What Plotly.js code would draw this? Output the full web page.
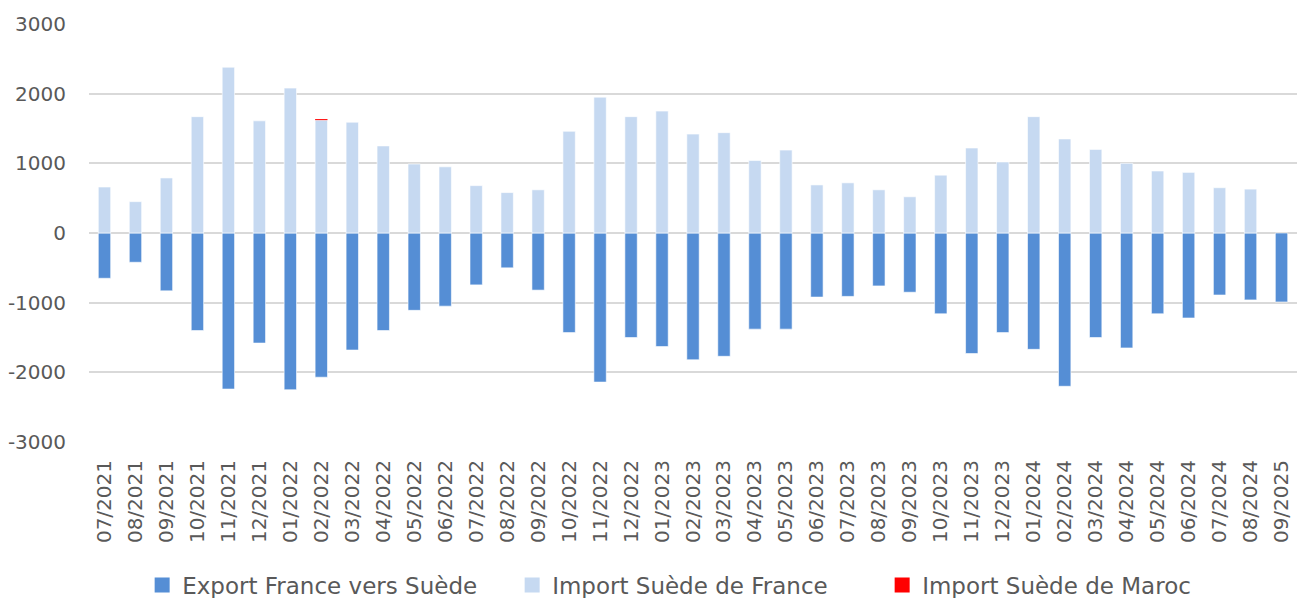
<!DOCTYPE html>
<html><head><meta charset="utf-8">
<script src="https://cdn.plot.ly/plotly-3.0.1.min.js"></script>
<style>body{margin:0;background:#fff}#chart{width:1299px;height:598px}</style>
</head><body><div id="chart"></div>
<script>
const months = ["07/2021","08/2021","09/2021","10/2021","11/2021","12/2021","01/2022","02/2022","03/2022","04/2022","05/2022","06/2022","07/2022","08/2022","09/2022","10/2022","11/2022","12/2022","01/2023","02/2023","03/2023","04/2023","05/2023","06/2023","07/2023","08/2023","09/2023","10/2023","11/2023","12/2023","01/2024","02/2024","03/2024","04/2024","05/2024","06/2024","07/2024","08/2024","09/2025"];
const exportFranceSuede = [-650,-420,-830,-1400,-2240,-1580,-2250,-2070,-1680,-1400,-1110,-1050,-745,-500,-820,-1430,-2140,-1500,-1630,-1820,-1770,-1380,-1380,-920,-910,-760,-850,-1160,-1730,-1430,-1670,-2200,-1500,-1650,-1160,-1220,-890,-960,-990];
const importSuedeFrance = [660,450,790,1670,2380,1610,2080,1620,1590,1250,990,950,680,580,620,1460,1950,1670,1750,1420,1440,1040,1190,690,720,620,520,830,1220,1020,1670,1350,1200,1000,890,870,650,630,null];
const importSuedeMaroc = [null,null,null,null,null,null,null,15,null,null,null,null,null,null,null,null,null,null,null,null,null,null,null,null,null,null,null,null,null,null,null,null,null,null,null,null,null,null,null];
const seriesNames = ['Export France vers Suède','Import Suède de France','Import Suède de Maroc'];
const seriesColors = ['#558ED5','#C6D9F1','#FF0000'];

const font = "'DejaVu Sans', sans-serif";
const traces = [
  {type:'bar', name:seriesNames[0], x:months, y:exportFranceSuede, showlegend:false,
   marker:{color:seriesColors[0], line:{color:'rgba(255,255,255,0.6)', width:1}}},
  {type:'bar', name:seriesNames[1], x:months, y:importSuedeFrance, showlegend:false,
   marker:{color:seriesColors[1], line:{color:'rgba(255,255,255,0.6)', width:1}}},
  {type:'bar', name:seriesNames[2], x:months, y:importSuedeMaroc, showlegend:false,
   marker:{color:seriesColors[2], line:{width:0}}}
];
// legend-only entries with larger square swatches
seriesNames.forEach((n,i)=>traces.push({type:'scatter', mode:'markers', name:n, x:[months[0]], y:[null],
  marker:{symbol:'square', size:15, color:seriesColors[i]}, showlegend:true}));

const layout = {
  width:1299, height:598,
  margin:{l:89, r:2, t:24, b:156, autoexpand:false},
  barmode:'relative', bargap:0.6,
  paper_bgcolor:'#fff', plot_bgcolor:'#fff',
  font:{family:font, color:'#595959', size:19},
  showlegend:true,
  legend:{orientation:'h', x:0.044, xanchor:'left', y:-0.342, yanchor:'middle',
          font:{size:23, color:'#595959'}, entrywidth:325, entrywidthmode:'pixels', itemwidth:30, traceorder:'normal'},
  xaxis:{type:'category', range:[-0.5,38.5], tickangle:-90, ticks:'', showgrid:false, automargin:false,
         showline:false, zeroline:false, tickfont:{size:20, color:'#595959'}, ticklabelstandoff:13},
  yaxis:{range:[-3000,3000], tickvals:[-3000,-2000,-1000,0,1000,2000,3000], automargin:false,
         ticktext:['-3000','-2000','-1000','0','1000','2000','3000'],
         gridcolor:'#D9D9D9', gridwidth:2, zeroline:true, zerolinecolor:'#D9D9D9', zerolinewidth:2,
         showline:false, ticks:'', tickfont:{size:20, color:'#595959'}, ticklabelstandoff:22}
};
Plotly.newPlot('chart', traces, layout, {displayModeBar:false, staticPlot:true});
</script></body></html>
